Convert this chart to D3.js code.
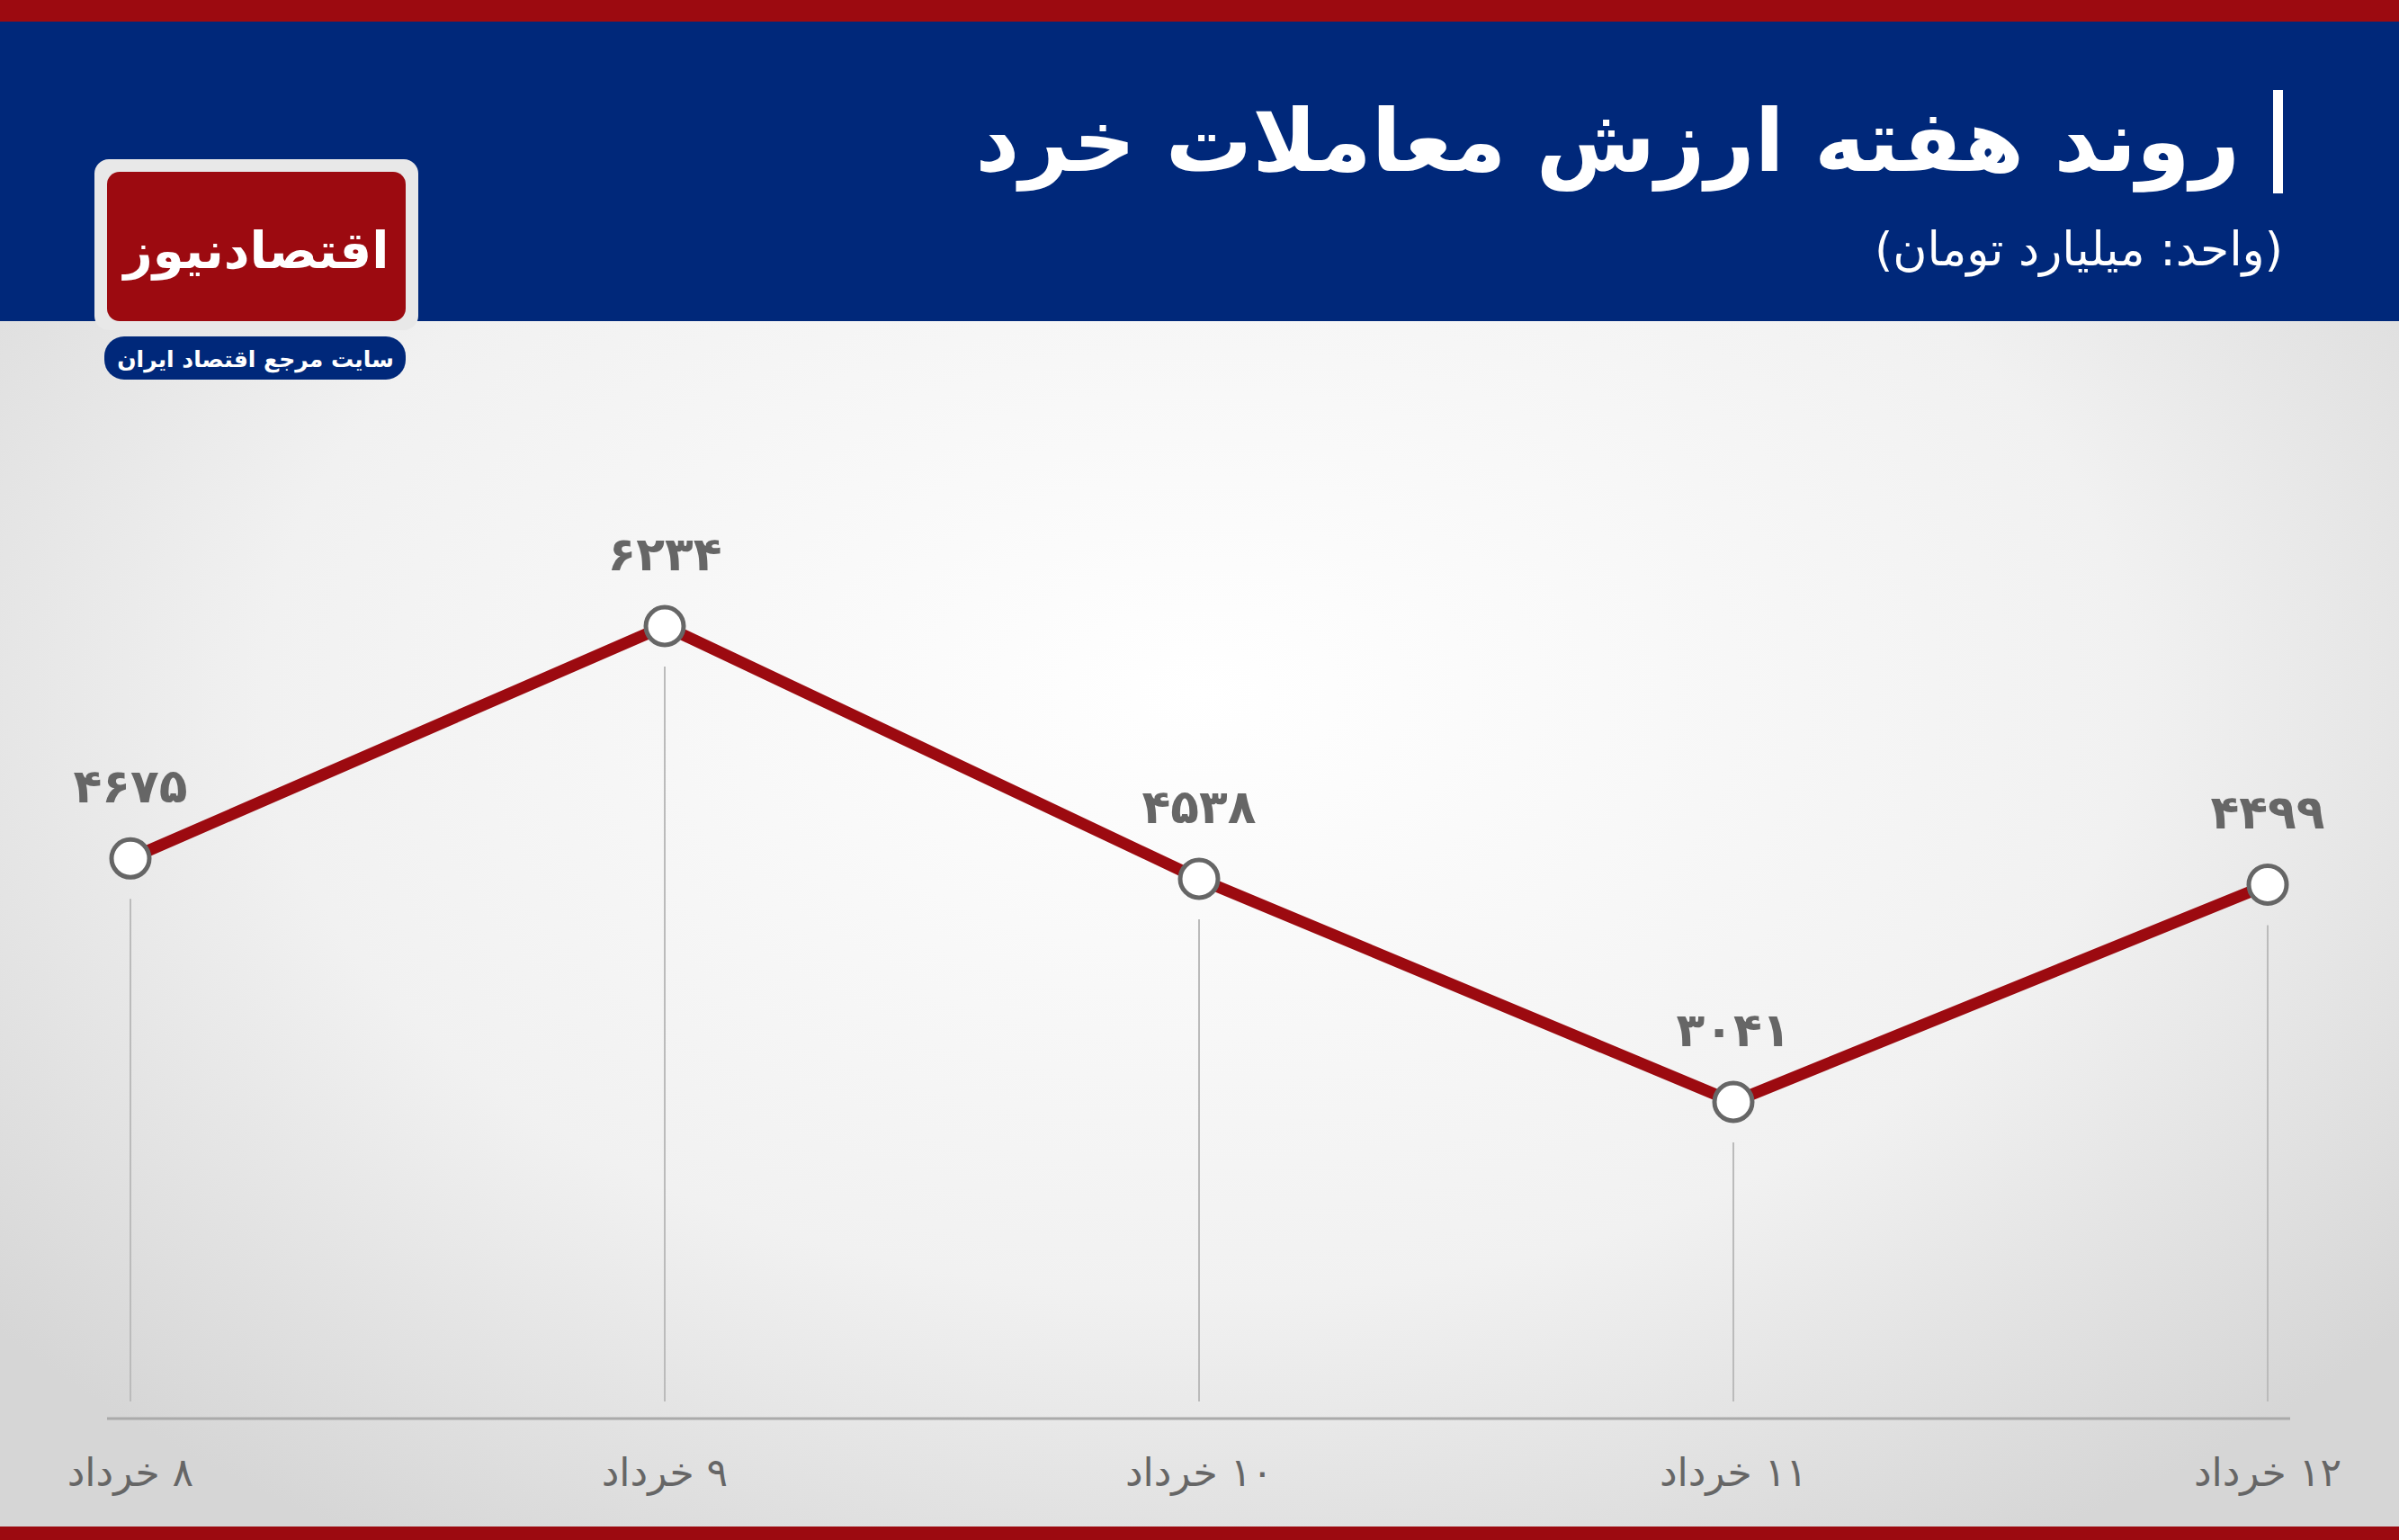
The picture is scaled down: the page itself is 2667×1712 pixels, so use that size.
<!DOCTYPE html>
<html><head><meta charset="utf-8">
<script src="https://cdn.jsdelivr.net/npm/d3@7"></script>
<style>body{margin:0;overflow:hidden}svg{display:block}</style>
</head><body>
<svg id="chart" width="2667" height="1712"></svg>
<script>
// data
const days = ["۸ خرداد", "۹ خرداد", "۱۰ خرداد", "۱۱ خرداد", "۱۲ خرداد"];
const values = [4675, 6234, 4538, 3041, 4499];
const title = "روند هفته ارزش معاملات خرد";
const subtitle = "(واحد: میلیارد تومان)";

const fa = s => String(s).replace(/\d/g, d => "۰۱۲۳۴۵۶۷۸۹"[d]);
const font = "'DejaVu Sans', sans-serif";
const svg = d3.select("#chart");
const W = 2667, H = 1712;

// background
const defs = svg.append("defs");
const rg = defs.append("radialGradient").attr("id", "bg")
    .attr("cx", "50%").attr("cy", "45%").attr("r", "65%");
rg.append("stop").attr("offset", "0%").attr("stop-color", "#ffffff");
rg.append("stop").attr("offset", "60%").attr("stop-color", "#f1f1f1");
rg.append("stop").attr("offset", "100%").attr("stop-color", "#d6d6d6");
svg.append("rect").attr("width", W).attr("height", H).attr("fill", "url(#bg)");

// header
svg.append("rect").attr("width", W).attr("height", 357).attr("fill", "#00287a");
svg.append("rect").attr("width", W).attr("height", 24).attr("fill", "#9c0a10");
svg.append("rect").attr("y", 1697).attr("width", W).attr("height", 15).attr("fill", "#9c0a10");

svg.append("rect").attr("x", 2527).attr("y", 100).attr("width", 11).attr("height", 115).attr("fill", "#fff");
svg.append("text").attr("x", 2490).attr("y", 190).attr("text-anchor", "start")
    .attr("direction", "rtl").attr("fill", "#fff").attr("font-family", font)
    .attr("font-weight", "bold").attr("font-size", 96).text(title);
svg.append("text").attr("x", 2538).attr("y", 295).attr("text-anchor", "start")
    .attr("direction", "rtl").attr("fill", "#fff").attr("font-family", font)
    .attr("font-size", 52).text(subtitle);

// logo
svg.append("rect").attr("x", 105).attr("y", 177).attr("width", 360).attr("height", 190)
    .attr("rx", 16).attr("fill", "#e8e8e8");
svg.append("rect").attr("x", 119).attr("y", 191).attr("width", 332).attr("height", 166)
    .attr("rx", 14).attr("fill", "#9c0a10");
svg.append("text").attr("x", 285).attr("y", 298).attr("text-anchor", "middle")
    .attr("fill", "#fff").attr("font-family", font).attr("font-weight", "bold")
    .attr("font-size", 56).text("اقتصادنیوز");
svg.append("rect").attr("x", 116).attr("y", 374).attr("width", 335).attr("height", 48)
    .attr("rx", 22).attr("fill", "#00287a");
svg.append("text").attr("x", 284).attr("y", 408).attr("text-anchor", "middle")
    .attr("fill", "#fff").attr("font-family", font).attr("font-weight", "bold")
    .attr("font-size", 25).text("سایت مرجع اقتصاد ایران");

// scales
const x = d3.scalePoint().domain(days).range([145, 2521]);
const y = d3.scaleLinear().domain([3041, 6234]).range([1225, 696]);
const data = days.map((d, i) => ({day: d, v: values[i]}));

// axis baseline
svg.append("line").attr("x1", 119).attr("x2", 2546).attr("y1", 1577).attr("y2", 1577)
    .attr("stroke", "#aaa").attr("stroke-width", 3);

// drop lines
svg.selectAll(".drop").data(data).enter().append("line")
    .attr("x1", d => x(d.day)).attr("x2", d => x(d.day))
    .attr("y1", d => y(d.v) + 45).attr("y2", 1558)
    .attr("stroke", "#bbb").attr("stroke-width", 2);

// line
svg.append("path").datum(data)
    .attr("d", d3.line().x(d => x(d.day)).y(d => y(d.v)))
    .attr("fill", "none").attr("stroke", "#9c0a10").attr("stroke-width", 13);

svg.selectAll(".pt").data(data).enter().append("circle")
    .attr("cx", d => x(d.day)).attr("cy", d => y(d.v)).attr("r", 21)
    .attr("fill", "#fff").attr("stroke", "#666").attr("stroke-width", 5);

svg.selectAll(".val").data(data).enter().append("text")
    .attr("x", d => x(d.day)).attr("y", d => y(d.v) - 62)
    .attr("text-anchor", "middle").attr("fill", "#666").attr("font-family", font)
    .attr("font-weight", "bold").attr("font-size", 52).text(d => fa(d.v));

svg.selectAll(".xl").data(data).enter().append("text")
    .attr("x", d => x(d.day)).attr("y", 1652)
    .attr("text-anchor", "middle").attr("direction", "rtl").attr("fill", "#666")
    .attr("font-family", font).attr("font-size", 44).text(d => d.day);
</script>
</body></html>
